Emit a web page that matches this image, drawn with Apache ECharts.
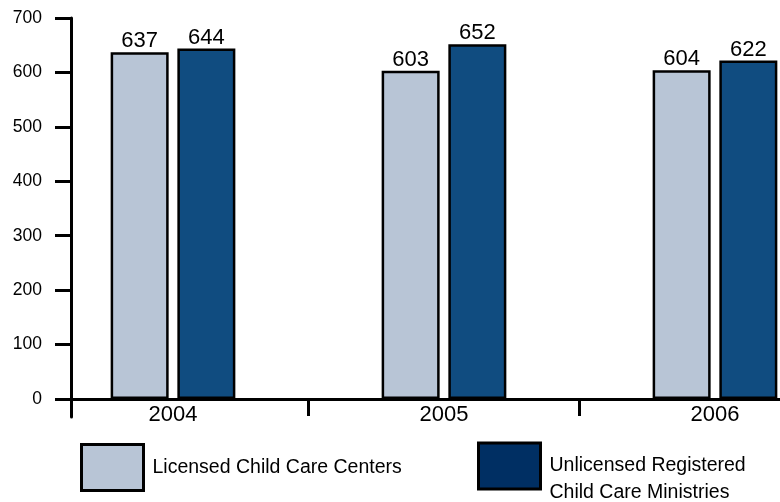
<!DOCTYPE html>
<html>
<head>
<meta charset="utf-8">
<script src="https://cdn.jsdelivr.net/npm/echarts@6/dist/echarts.min.js"></script>
<style>
html,body{margin:0;padding:0;background:#fff;}
#chart{width:780px;height:502px;}
</style>
</head>
<body>
<div id="chart"></div>
<script>
var categories = ['2004', '2005', '2006'];
var licensedCenters = [637, 603, 604];
var unlicensedMinistries = [644, 652, 622];
var yTickValues = [0, 100, 200, 300, 400, 500, 600, 700];
var seriesNames = ['Licensed Child Care Centers', 'Unlicensed Registered Child Care Ministries'];

var FONT = "'Liberation Sans', Arial, sans-serif";
var chart = echarts.init(document.getElementById('chart'), null, {renderer: 'canvas'});

// category positions on the x scale (index of each category)
var catIndex = categories.map(function (c, i) { return i; });
var boundaries = catIndex.slice(0, -1).map(function (i) { return i + 0.5; });

function pairs(values) {
  return values.map(function (v, i) { return [catIndex[i], v]; });
}

var labelStyle = {
  show: true, position: 'top', distance: 0,
  color: '#000', fontFamily: FONT, fontSize: 22
};

chart.setOption({
  animation: false,
  backgroundColor: '#fff',
  grid: {left: 71, right: 0, top: 18, bottom: 85, outerBoundsMode: 'none'},
  legend: [
    {
      left: 80, top: 443, padding: 0, icon: 'rect', itemWidth: 62, itemHeight: 46,
      selectedMode: false,
      data: [{name: seriesNames[0], itemStyle: {color: '#b8c5d6', borderColor: '#000', borderWidth: 3}}],
      textStyle: {color: '#000', fontFamily: FONT, fontSize: 19.5, padding: [0, 0, 0, 4]}
    },
    {
      left: 477, top: 425.5, padding: 0, icon: 'rect', itemWidth: 62, itemHeight: 46,
      selectedMode: false,
      data: [{name: seriesNames[1], itemStyle: {color: '#002f63', borderColor: '#000', borderWidth: 3}}],
      formatter: function () { return '\nUnlicensed Registered\nChild Care Ministries'; },
      textStyle: {color: '#000', fontFamily: FONT, fontSize: 19.5, lineHeight: 27, padding: [0, 0, 0, 4]}
    }
  ],
  xAxis: {
    type: 'value',
    min: -0.3764, max: 2.2399,
    axisLine: {onZero: true, lineStyle: {color: '#000', width: 3}},
    axisTick: {show: true, length: 17, lineStyle: {color: '#000', width: 3}, customValues: boundaries},
    axisLabel: {
      color: '#000', fontFamily: FONT, fontSize: 22, margin: -13,
      customValues: catIndex,
      formatter: function (v) { return categories[Math.round(v)]; }
    },
    splitLine: {show: false}
  },
  yAxis: {
    type: 'value',
    min: -33, max: 700,
    axisLine: {show: true, onZero: false, lineStyle: {color: '#000', width: 3}},
    axisTick: {show: true, length: 16, lineStyle: {color: '#000', width: 3}, customValues: yTickValues},
    axisLabel: {color: '#000', fontFamily: FONT, fontSize: 17.5, margin: 29, customValues: yTickValues},
    splitLine: {show: false}
  },
  series: [
    {
      name: seriesNames[0], type: 'bar', data: pairs(licensedCenters),
      barWidth: 58, barGap: '15%',
      itemStyle: {color: '#b8c5d6', borderColor: '#000', borderWidth: 2.5},
      label: labelStyle
    },
    {
      name: seriesNames[1], type: 'bar', data: pairs(unlicensedMinistries),
      barWidth: 58,
      itemStyle: {color: '#104c80', borderColor: '#000', borderWidth: 2.5},
      label: labelStyle
    }
  ]
});
</script>
</body>
</html>
